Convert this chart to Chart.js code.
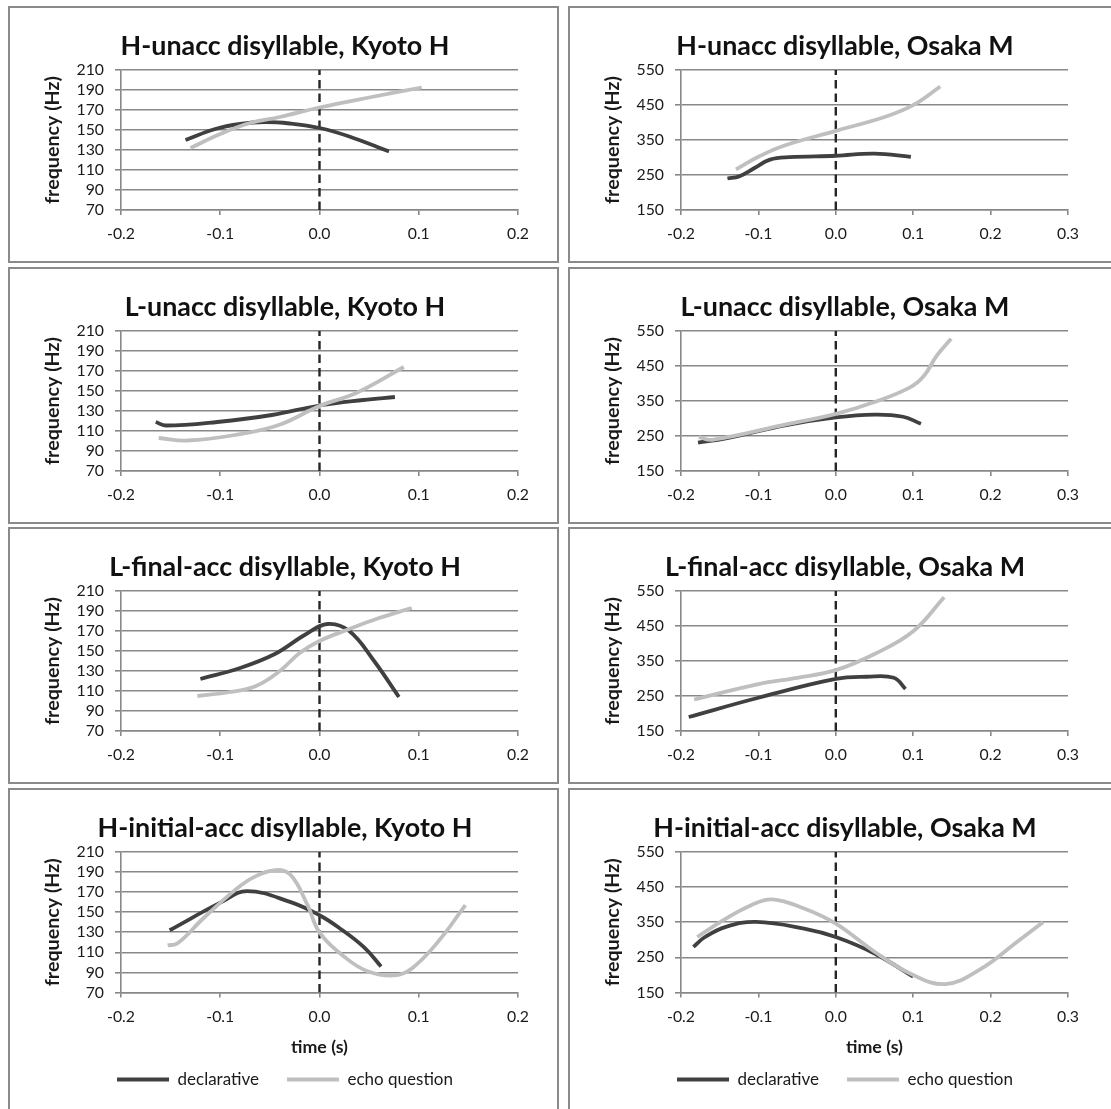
<!DOCTYPE html>
<html>
<head>
<meta charset="utf-8">
<script src="https://cdn.jsdelivr.net/npm/chart.js@4"></script>
<style>
  html, body { margin: 0; padding: 0; background: #fff; }
  body { position: relative; width: 1111px; height: 1109px; overflow: hidden; }
  .frame { position: absolute; border: 2px solid #8a8a8a; box-sizing: border-box; }
  canvas { position: absolute; }
</style>
</head>
<body>
<script>
// ---- Axis ticks ----
const kyotoFreqTicks = [70, 90, 110, 130, 150, 170, 190, 210];
const osakaFreqTicks = [150, 250, 350, 450, 550];
const kyotoTimeTicks = [-0.2, -0.1, 0.0, 0.1, 0.2];
const osakaTimeTicks = [-0.2, -0.1, 0.0, 0.1, 0.2, 0.3];

// ---- Kyoto H: H-unaccented disyllable ----
const hUnaccKyotoDeclT = [-0.135, -0.105, -0.08, -0.055, -0.03, 0.0, 0.03, 0.07];
const hUnaccKyotoDeclF = [140, 151, 156, 158, 156.5, 152, 143.5, 128.5];
const hUnaccKyotoEchoT = [-0.13, -0.1, -0.07, -0.04, 0.0, 0.05, 0.103];
const hUnaccKyotoEchoF = [132, 146, 157, 163, 172.5, 182.5, 192.5];

// ---- Osaka M: H-unaccented disyllable ----
const hUnaccOsakaDeclT = [-0.14, -0.125, -0.105, -0.085, -0.06, 0.0, 0.05, 0.097];
const hUnaccOsakaDeclF = [240, 246, 270, 294, 301, 305, 311, 302];
const hUnaccOsakaEchoT = [-0.129, -0.1, -0.068, 0.0, 0.066, 0.101, 0.135];
const hUnaccOsakaEchoF = [266, 302, 333, 376, 418, 451, 503];

// ---- Kyoto H: L-unaccented disyllable ----
const lUnaccKyotoDeclT = [-0.165, -0.155, -0.103, -0.048, 0.0, 0.044, 0.076];
const lUnaccKyotoDeclF = [119, 115.5, 119, 126, 135.5, 141, 144];
const lUnaccKyotoEchoT = [-0.162, -0.133, -0.085, -0.041, 0.0, 0.037, 0.085];
const lUnaccKyotoEchoF = [103, 100.5, 106, 116, 135, 148, 174];

// ---- Osaka M: L-unaccented disyllable ----
const lUnaccOsakaDeclT = [-0.178, -0.142, -0.064, 0.0, 0.05, 0.087, 0.11];
const lUnaccOsakaDeclF = [231, 243, 281, 303, 311, 305, 285];
const lUnaccOsakaEchoT = [-0.177, -0.16, -0.064, 0.0, 0.05, 0.096, 0.114, 0.13, 0.149];
const lUnaccOsakaEchoF = [247, 239, 283, 313, 347, 389, 422, 478, 528];

// ---- Kyoto H: L-final-accented disyllable ----
const lFinalKyotoDeclT = [-0.12, -0.08, -0.045, -0.015, 0.008, 0.03, 0.055, 0.08];
const lFinalKyotoDeclF = [122, 133, 147, 166, 177, 170, 140, 104];
const lFinalKyotoEchoT = [-0.123, -0.09, -0.064, -0.04, -0.02, 0.0, 0.03, 0.06, 0.093];
const lFinalKyotoEchoF = [105, 109, 115, 130, 148, 160, 172, 183, 193];

// ---- Osaka M: L-final-accented disyllable ----
const lFinalOsakaDeclT = [-0.19, -0.1, 0.0, 0.04, 0.075, 0.09];
const lFinalOsakaDeclF = [190, 245, 299, 305, 302, 270];
const lFinalOsakaEchoT = [-0.183, -0.1, -0.05, 0.0, 0.05, 0.1, 0.14];
const lFinalOsakaEchoF = [240, 284, 302, 324, 370, 435, 532];

// ---- Kyoto H: H-initial-accented disyllable ----
const hInitKyotoDeclT = [-0.151, -0.099, -0.073, -0.029, 0.0, 0.019, 0.045, 0.062];
const hInitKyotoDeclF = [132, 160, 171, 160, 147, 135, 115, 96];
const hInitKyotoEchoT = [-0.153, -0.143, -0.117, -0.084, -0.066, -0.044, -0.029, -0.012, 0.0, 0.027, 0.049, 0.075, 0.093, 0.119, 0.147];
const hInitKyotoEchoF = [117, 119, 144, 173, 185, 192, 187, 157, 130, 104, 91, 87, 94, 120, 157];

// ---- Osaka M: H-initial-accented disyllable ----
const hInitOsakaDeclT = [-0.184, -0.169, -0.142, -0.103, -0.041, 0.0, 0.05, 0.1];
const hInitOsakaDeclF = [280, 308, 337, 351, 332, 308, 261, 195];
const hInitOsakaEchoT = [-0.179, -0.142, -0.11, -0.082, -0.041, 0.0, 0.05, 0.096, 0.142, 0.188, 0.234, 0.268];
const hInitOsakaEchoF = [308, 360, 398, 415, 389, 346, 266, 204, 174, 218, 294, 351];

// ---- Styling ----
const FONT = "Lato, 'Open Sans', sans-serif";
const DECL_COLOR = '#404040';
const ECHO_COLOR = '#bfbfbf';
const GRID_COLOR = '#888888';
const TEXT_COLOR = '#1a1a1a';

// Font sizes chosen so the rendered strings reach the intended pixel widths
const measureCtx = document.createElement('canvas').getContext('2d');
function fitSize(text, weight, width) {
  measureCtx.font = weight + ' 100px ' + FONT;
  return 100 * width / measureCtx.measureText(text).width;
}
const TITLE_SIZE = fitSize('H-unacc disyllable, Kyoto H', 'bold', 329);
const TICK_SIZE = fitSize('210', 'normal', 27.5);
const YTITLE_SIZE = fitSize('frequency (Hz)', 'bold', 128);
const XTITLE_SIZE = fitSize('time (s)', 'bold', 57);
const LEGEND_SIZE = fitSize('declarativeecho question', 'normal', 187);

// Frame geometry (page pixels)
const COL_LEFT = [8, 568];
const PANEL_W = 551;
const ROW_TOP = [6, 267, 527, 788];
const FRAME_H = 257;

// Geometry inside each canvas
const PLOT_LEFT = 113, PLOT_TOP = 64, PLOT_H = 140;
const PLOT_RIGHT = [510, 500];
const CENTER_X = 277;          // centre of title and legend
const TITLE_Y = 40;            // centre of title line
const YTITLE_X = 45;           // centre of rotated y title
const XLABEL_DY = 24;          // x tick label centre below axis
const XTITLE_DY = 55;          // x title centre below axis
const LEGEND_Y = 291;          // legend row centre
const LEGEND_PAD = 28;

const panels = [
  { title: 'H-unacc disyllable, Kyoto H', col: 0, row: 0, t1: hUnaccKyotoDeclT, f1: hUnaccKyotoDeclF, t2: hUnaccKyotoEchoT, f2: hUnaccKyotoEchoF },
  { title: 'H-unacc disyllable, Osaka M', col: 1, row: 0, t1: hUnaccOsakaDeclT, f1: hUnaccOsakaDeclF, t2: hUnaccOsakaEchoT, f2: hUnaccOsakaEchoF },
  { title: 'L-unacc disyllable, Kyoto H', col: 0, row: 1, t1: lUnaccKyotoDeclT, f1: lUnaccKyotoDeclF, t2: lUnaccKyotoEchoT, f2: lUnaccKyotoEchoF },
  { title: 'L-unacc disyllable, Osaka M', col: 1, row: 1, t1: lUnaccOsakaDeclT, f1: lUnaccOsakaDeclF, t2: lUnaccOsakaEchoT, f2: lUnaccOsakaEchoF },
  { title: 'L-final-acc disyllable, Kyoto H', col: 0, row: 2, t1: lFinalKyotoDeclT, f1: lFinalKyotoDeclF, t2: lFinalKyotoEchoT, f2: lFinalKyotoEchoF },
  { title: 'L-final-acc disyllable, Osaka M', col: 1, row: 2, t1: lFinalOsakaDeclT, f1: lFinalOsakaDeclF, t2: lFinalOsakaEchoT, f2: lFinalOsakaEchoF },
  { title: 'H-initial-acc disyllable, Kyoto H', col: 0, row: 3, t1: hInitKyotoDeclT, f1: hInitKyotoDeclF, t2: hInitKyotoEchoT, f2: hInitKyotoEchoF },
  { title: 'H-initial-acc disyllable, Osaka M', col: 1, row: 3, t1: hInitOsakaDeclT, f1: hInitOsakaDeclF, t2: hInitOsakaEchoT, f2: hInitOsakaEchoF }
];

const zip = (ts, fs) => ts.map((t, i) => ({ x: t, y: fs[i] }));
const font = (size, bold) => ({ family: FONT, size: size, weight: bold ? 'bold' : 'normal', lineHeight: 1.2 });

function drawPanel(p) {
  const bottomRow = p.row === 3;
  const freqTicks = p.col === 0 ? kyotoFreqTicks : osakaFreqTicks;
  const timeTicks = p.col === 0 ? kyotoTimeTicks : osakaTimeTicks;
  const yMin = freqTicks[0], yMax = freqTicks[freqTicks.length - 1];
  const xMin = timeTicks[0], xMax = timeTicks[timeTicks.length - 1];

  const left = COL_LEFT[p.col], top = ROW_TOP[p.row];
  const frame = document.createElement('div');
  frame.className = 'frame';
  frame.style.left = left + 'px';
  frame.style.top = top + 'px';
  frame.style.width = PANEL_W + 'px';
  frame.style.height = (bottomRow ? 340 : FRAME_H) + 'px';
  document.body.appendChild(frame);

  const plotRight = PLOT_RIGHT[p.col];
  const padRight = PANEL_W - plotRight;
  const padLeft = 2 * CENTER_X - plotRight;   // centres title and legend on CENTER_X
  const plotBottom = PLOT_TOP + PLOT_H;

  const titleLH = TITLE_SIZE * 1.2;
  const yTitleLH = YTITLE_SIZE * 1.2;
  const xTitleLH = XTITLE_SIZE * 1.2;
  const tickLH = TICK_SIZE * 1.2;

  let ch, xAxisH;
  if (bottomRow) {
    const legendTop = LEGEND_Y - LEGEND_PAD - LEGEND_SIZE / 2;
    xAxisH = legendTop - plotBottom;
    ch = Math.round(legendTop + LEGEND_SIZE + LEGEND_PAD + 10);
  } else {
    ch = FRAME_H;
    xAxisH = ch - plotBottom;
  }

  const canvas = document.createElement('canvas');
  canvas.width = PANEL_W; canvas.height = ch;
  canvas.style.left = left + 'px';
  canvas.style.top = top + 'px';
  canvas.style.width = PANEL_W + 'px';
  canvas.style.height = ch + 'px';
  document.body.appendChild(canvas);

  new Chart(canvas, {
    type: 'line',
    data: {
      datasets: [
        { label: 'declarative', data: zip(p.t1, p.f1), borderColor: DECL_COLOR, backgroundColor: DECL_COLOR,
          borderWidth: 3.8, pointRadius: 0, tension: 0.4, order: 2 },
        { label: 'echo question', data: zip(p.t2, p.f2), borderColor: ECHO_COLOR, backgroundColor: ECHO_COLOR,
          borderWidth: 3.8, pointRadius: 0, tension: 0.4, order: 1 },
        { label: '', data: [{ x: 0, y: yMin }, { x: 0, y: yMax }], borderColor: '#262626',
          borderWidth: 2.4, borderDash: [8.5, 5], pointRadius: 0, tension: 0, order: 3 }
      ]
    },
    options: {
      responsive: false,
      animation: false,
      devicePixelRatio: 1,
      events: [],
      layout: { padding: { left: padLeft, top: 0, bottom: 0, right: padRight } },
      plugins: {
        title: {
          display: true, text: p.title, color: '#111', font: font(TITLE_SIZE, true),
          padding: { top: TITLE_Y - titleLH / 2, bottom: PLOT_TOP - TITLE_Y - titleLH / 2 }
        },
        legend: bottomRow ? {
          display: true, position: 'bottom',
          labels: {
            font: font(LEGEND_SIZE, false), color: TEXT_COLOR,
            boxWidth: 52, boxHeight: 4, padding: LEGEND_PAD,
            sort: (a, b) => a.datasetIndex - b.datasetIndex,
            generateLabels: (chart) => Chart.defaults.plugins.legend.labels.generateLabels(chart)
              .filter(it => it.text)
              .map(it => Object.assign({}, it, { lineWidth: 0, fillStyle: it.strokeStyle }))
          }
        } : { display: false },
        tooltip: { enabled: false }
      },
      scales: {
        x: {
          type: 'linear', min: xMin, max: xMax,
          afterBuildTicks: s => { s.ticks = timeTicks.map(v => ({ value: v })); },
          afterFit: s => { s.height = xAxisH; },
          grid: { drawOnChartArea: false, drawTicks: true, tickLength: 5, color: GRID_COLOR, lineWidth: 1.6 },
          border: { display: true, color: GRID_COLOR, width: 1.6 },
          ticks: { font: font(TICK_SIZE, false), color: TEXT_COLOR, padding: XLABEL_DY - 5 - tickLH / 2,
                   maxRotation: 0, autoSkip: false, callback: v => Number(v).toFixed(1) },
          title: bottomRow ? {
            display: true, text: 'time (s)', color: TEXT_COLOR, font: font(XTITLE_SIZE, true),
            padding: { top: 0, bottom: xAxisH - XTITLE_DY - xTitleLH / 2 }
          } : { display: false }
        },
        y: {
          type: 'linear', min: yMin, max: yMax,
          afterBuildTicks: s => { s.ticks = freqTicks.map(v => ({ value: v })); },
          afterFit: s => { s.width = PLOT_LEFT - padLeft; },
          grid: { drawTicks: true, tickLength: 6, color: GRID_COLOR, lineWidth: 1.6 },
          border: { display: true, color: GRID_COLOR, width: 1.6 },
          ticks: { font: font(TICK_SIZE, false), color: TEXT_COLOR, padding: 11, autoSkip: false },
          title: {
            display: true, text: 'frequency (Hz)', color: TEXT_COLOR, font: font(YTITLE_SIZE, true),
            padding: { top: YTITLE_X - padLeft - yTitleLH / 2, bottom: 0 }
          }
        }
      }
    }
  });
}

panels.forEach(drawPanel);
</script>
</body>
</html>
